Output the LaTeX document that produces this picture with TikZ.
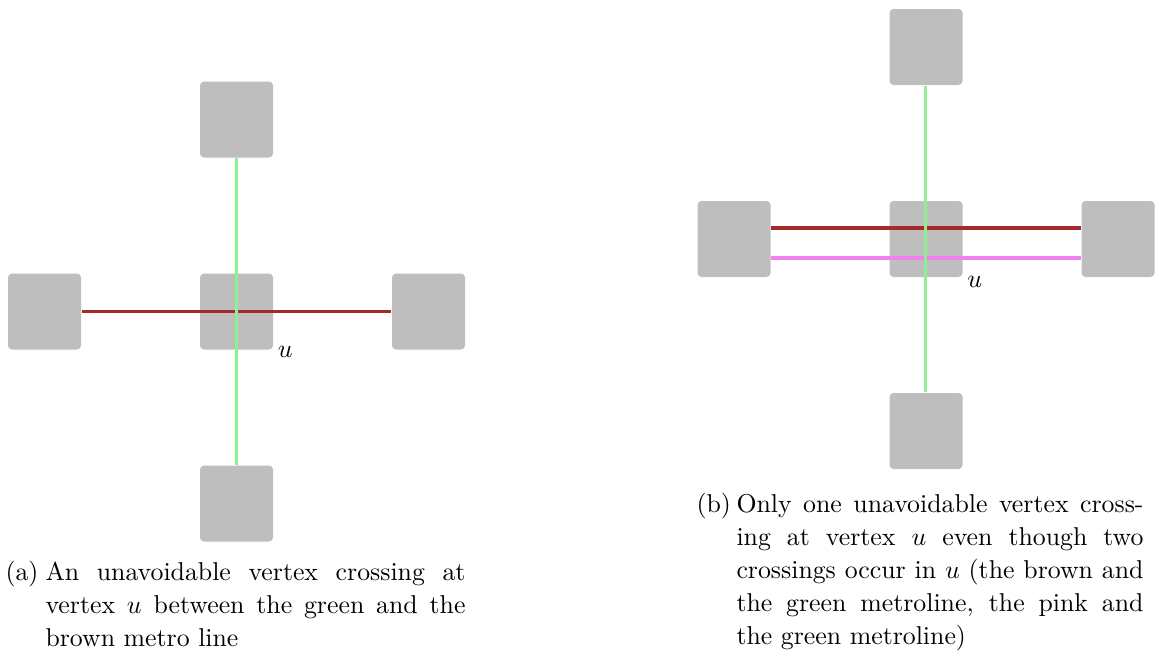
\documentclass[tikz,border=0pt]{standalone}
\usetikzlibrary{calc}
\newlength\pxu
\setlength\pxu{0.3876pt}
\definecolor{stationgray}{RGB}{190,190,190}
\definecolor{metrobrown}{RGB}{165,42,42}
\definecolor{metrogreen}{RGB}{144,238,144}
\definecolor{metropink}{RGB}{238,130,238}
\tikzset{
  station/.style={fill=stationgray, draw=none, rounded corners=4\pxu,
    minimum width=73\pxu, minimum height=76\pxu, inner sep=0pt},
  metro/.style={line width=3.8\pxu},
  vlabel/.style={anchor=west, inner sep=1.5pt},
  captext/.style={font={\fontsize{10pt}{12.8pt}\selectfont}},
  subtag/.style={anchor=base west, inner sep=0pt, captext},
  subcap/.style={anchor=base west, inner sep=0pt, text width=#1,
    align=justify, captext}
}
\begin{document}
\begin{tikzpicture}[x=\pxu, y=-\pxu]
  \useasboundingbox (0,0) rectangle (1159,666);

  % (a) one metro line crossing another at u
  \node[station] (at) at (236.5,119.5) {};
  \node[station] (ac) at (236.5,311.5) {};
  \node[station] (al) at (44.5,311.5) {};
  \node[station] (ar) at (428.5,311.5) {};
  \node[station] (ab) at (236.5,503.5) {};
  \draw[metro, metrobrown] (al.east) -- (ar.west);
  \draw[metro, metrogreen] (at.south) -- (ab.north);
  \node[vlabel] (ua) at ([yshift=-1.5\pxu]ac.south east) {$u$};

  % (b) two parallel lines crossing the green line at u
  \node[station] (bt) at (926,47) {};
  \node[station] (bc) at (926,239) {};
  \node[station] (bl) at (734,239) {};
  \node[station] (br) at (1118,239) {};
  \node[station] (bb) at (926,431) {};
  \draw[metro, metrobrown] ([yshift=10.7\pxu]bl.east) -- ([yshift=10.7\pxu]br.west);
  \draw[metro, metropink] ([yshift=-18.7\pxu]bl.east) -- ([yshift=-18.7\pxu]br.west);
  \draw[metro, metrogreen] ([xshift=-0.5\pxu]bt.south) -- ([xshift=-0.5\pxu]bb.north);
  \node[vlabel] (ub) at ([yshift=-4\pxu]bc.south east) {$u$};

  % sub-captions: tag plus justified text block
  \node[subtag] (taga) at (5,580) {(a)};
  \node[subcap=420\pxu] (capa) at (45,580) {An unavoidable vertex crossing at\linebreak
    vertex $u$ between the green and the\linebreak
    brown metro line};
  \node[subtag] (tagb) at (696,512) {(b)};
  \node[subcap=407\pxu] (capb) at (736,512) {Only one unavoidable vertex cross-\linebreak
    ing at vertex $u$ even though two\linebreak
    crossings occur in $u$ (the brown and\linebreak
    the green metroline, the pink and\linebreak
    the green metroline)};
\end{tikzpicture}
\end{document}
